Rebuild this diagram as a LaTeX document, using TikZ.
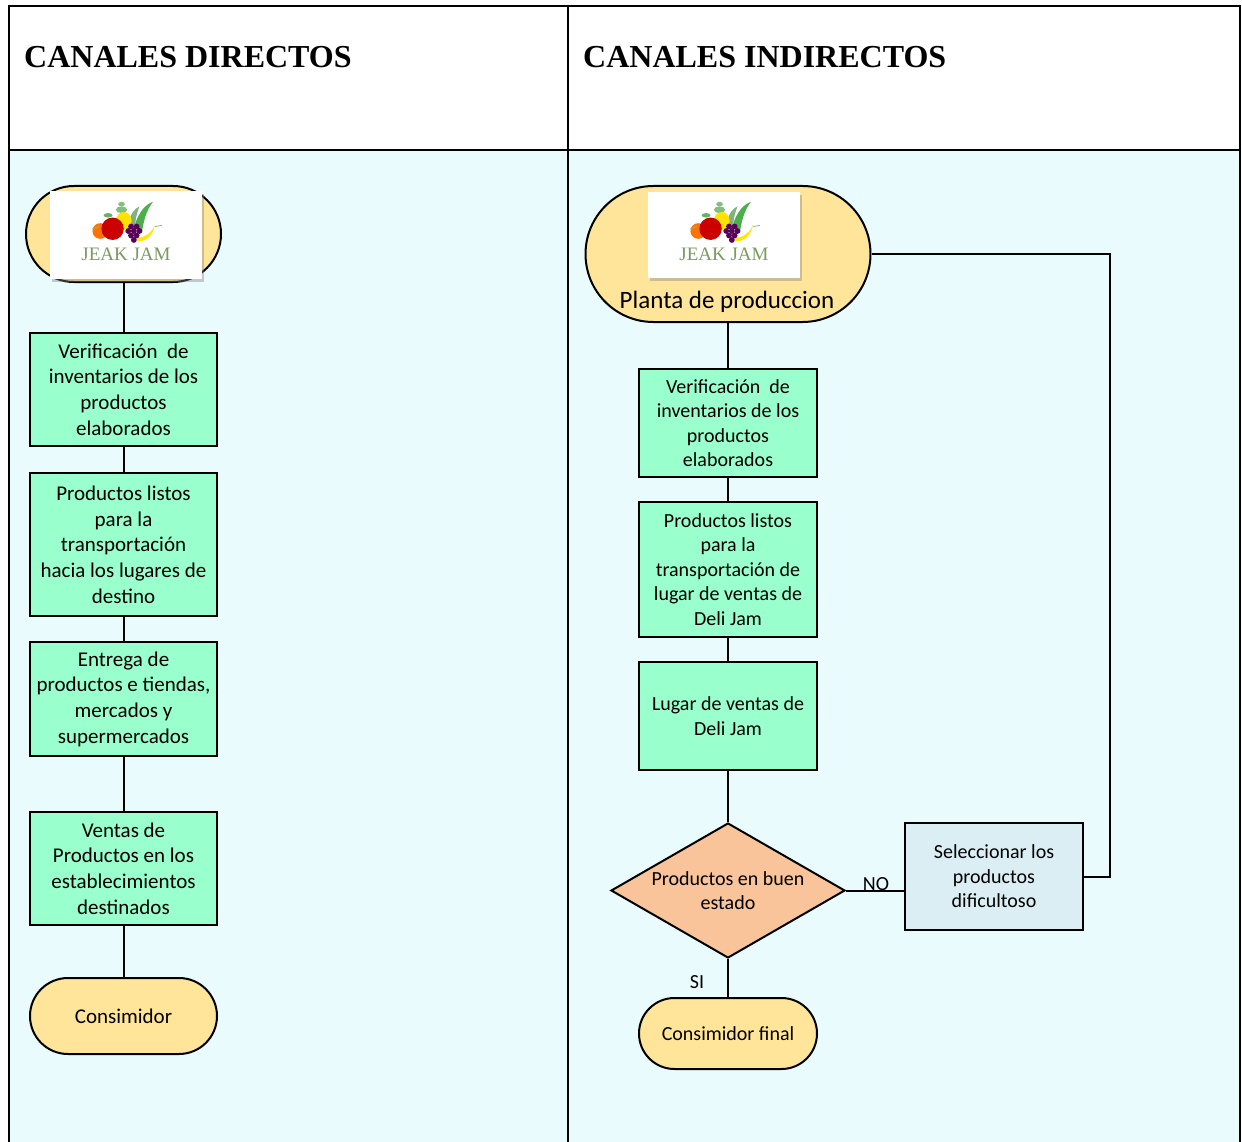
\documentclass[tikz,border=0pt]{standalone}
\usepackage{fontspec}
\setmainfont{Carlito}
\newfontfamily\headfont{Liberation Serif}
\newfontfamily\logofont{Liberation Serif}
\usetikzlibrary{shapes.geometric,shadows,calc}
\definecolor{bodybg}{HTML}{EAFBFE}
\definecolor{procfill}{HTML}{99FFCC}
\definecolor{termfill}{HTML}{FFE599}
\definecolor{decfill}{HTML}{F9C49A}
\definecolor{selfill}{HTML}{DAEEF3}
\definecolor{logogreen}{HTML}{7A9A5E}
\begin{document}
\begin{tikzpicture}[x=1pt,y=-1pt,
  tline/.style={line width=2.5pt, line cap=rect},
  conn/.style={line width=2pt},
  lfont/.style={font=\fontsize{21}{25.7}\selectfont},
  rfont/.style={font=\fontsize{20}{24.4}\selectfont},
  proc/.style={draw=black, line width=2pt, fill=procfill, rectangle, align=center, inner sep=0pt},
  term/.style={draw=black, line width=2pt, fill=termfill, rectangle, align=center, inner sep=0pt},
  dec/.style={draw=black, line width=2pt, fill=decfill, diamond, inner sep=0pt},
  sel/.style={draw=black, line width=2pt, fill=selfill, rectangle, align=center, inner sep=0pt},
  logobox/.style={fill=white, rectangle, inner sep=0pt, minimum width=152pt, minimum height=88pt,
    drop shadow={opacity=0.4, shadow xshift=1.5pt, shadow yshift=-3pt}},
  head/.style={font=\headfont\bfseries\fontsize{32}{36}\selectfont, anchor=base west, inner sep=0pt},
  pics/jeaklogo/.style={code={
    \begin{scope}[yshift=4pt, scale=1.12]
    % leaves
    \fill[green!55!black!70] (8,-6) .. controls (12,-18) and (18,-24) .. (24,-26) .. controls (18,-18) and (16,-10) .. (14,2) -- cycle;
    \fill[green!40!black!50] (2,-6) .. controls (4,-16) and (8,-20) .. (12,-22) .. controls (9,-14) and (8,-8) .. (8,0) -- cycle;
    \fill[green!50!black!50] (-4,-19) ellipse (5pt and 3pt);
    \fill[green!50!black!50] (-4,-24) ellipse (3pt and 2pt);
    % pineapple
    \fill[yellow!85!orange] (-2,-9) ellipse (7pt and 8pt);
    % orange
    \fill[orange!90!red] (-23,0) circle (7pt);
    % apple
    \fill[red!80!black] (-12,-2) circle (10pt);
    \fill[green!50!black!60] (-16,-14) ellipse (4pt and 2pt);
    % banana
    \fill[yellow!90!orange] (10,6) .. controls (18,6) and (24,0) .. (26,-6) .. controls (24,4) and (18,10) .. (10,9) -- cycle;
    % grapes
    \foreach \gx/\gy in {2/0,7/0,12/0,4.5/4,9.5/4,7/8,4.5/-4,9.5/-4}
      \fill[violet!70!black] (\gx,\gy) circle (2.6pt);
    \draw[green!50!black!50, line width=0.8pt] (-30,-2) -- (-24,-4);
    \draw[green!50!black!50, line width=0.8pt] (26,-4) -- (32,-5);
    \end{scope}
    \node[font=\logofont\fontsize{19}{19}\selectfont, text=logogreen, inner sep=0pt] at (0,19) {JEAK JAM};
  }}
]
\useasboundingbox (0,0) rectangle (1242,1142);
% table
\fill[white] (9,6) rectangle (1240,150);
\fill[bodybg] (9,150) rectangle (1240,1142);
\draw[tline] (9,6) -- (1240,6);
\draw[tline] (9,150) -- (1240,150);
\draw[tline] (9,6) -- (9,1142);
\draw[tline] (568,6) -- (568,1142);
\draw[tline] (1240,6) -- (1240,1142);
\node[head] (h1) at (24,68) {CANALES DIRECTOS};
\node[head] (h2) at (583,68) {CANALES INDIRECTOS};

% ---------- left column ----------
\node[term, minimum width=195pt, minimum height=96pt, rounded corners=48pt] (lt) at (123.5,234) {};
\node[logobox] (llogo) at (126,235) {};
\pic at (llogo.center) {jeaklogo};
\node[proc, lfont, minimum width=187pt, minimum height=113pt] (l1) at (123.5,389.5)
  {Verificación~ de\\inventarios de los\\productos\\elaborados};
\node[proc, lfont, minimum width=187pt, minimum height=143pt] (l2) at (123.5,544.5)
  {Productos listos\\para la\\transportación\\hacia los lugares de\\destino};
\node[proc, lfont, minimum width=187pt, minimum height=114pt] (l3) at (123.5,699)
  {Entrega de\\productos e tiendas,\\mercados y\\supermercados};
\node[proc, lfont, minimum width=187pt, minimum height=113pt] (l4) at (123.5,868.5)
  {Ventas de\\Productos en los\\establecimientos\\destinados};
\node[term, lfont, minimum width=187pt, minimum height=76pt, rounded corners=38pt] (lc) at (123.5,1016) {Consimidor};
\draw[conn] (lt.south) -- (l1.north);
\draw[conn] (l1) -- (l2);
\draw[conn] (l2) -- (l3);
\draw[conn] (l3) -- (l4);
\draw[conn] (l4) -- (lc);

% ---------- right column ----------
\node[term, minimum width=285pt, minimum height=136pt, rounded corners=68pt] (rt) at (728,254) {};
\node[logobox, minimum height=86pt] (rlogo) at (724,235) {};
\pic at (rlogo.center) {jeaklogo};
\node[font=\fontsize{25}{27}\selectfont, inner sep=0pt] (rtl) at (727,302) {Planta de produccion};
\node[proc, rfont, minimum width=178pt, minimum height=108pt] (r1) at (728,423)
  {Verificación~ de\\inventarios de los\\productos\\elaborados};
\node[proc, rfont, minimum width=178pt, minimum height=135pt] (r2) at (728,569.5)
  {Productos listos\\para la\\transportación de\\lugar de ventas de\\Deli Jam};
\node[proc, rfont, minimum width=178pt, minimum height=108pt] (r3) at (728,716)
  {Lugar de ventas de\\Deli Jam};
\node[dec, minimum width=234pt, minimum height=135pt, aspect=1.73] (rd) at (728,890.5) {};
\node[rfont, align=center, inner sep=0pt] (rdt) at (rd.center) {Productos en buen\\estado};
\node[sel, rfont, minimum width=178pt, minimum height=107pt] (rs) at (994,876.5)
  {Seleccionar los\\productos\\dificultoso};
\node[term, rfont, minimum width=178pt, minimum height=71pt, rounded corners=35.5pt] (rc) at (728,1033.5) {Consimidor final};
\coordinate (ret) at (1110,254);
\draw[conn] (rt.south) -- (r1.north);
\draw[conn] (r1) -- (r2);
\draw[conn] (r2) -- (r3);
\draw[conn] (r3.south) -- (rd.north);
\draw[conn] (rd.south) -- (rc.north);
\draw[conn] (rd.east) -- (rd.east -| rs.west);
\draw[conn] (rs.east) -| (ret) -- (rt.east);
\node[rfont, inner sep=0pt] (no) at (876,884) {NO};
\node[rfont, inner sep=0pt] (si) at (697,982) {SI};
\end{tikzpicture}
\end{document}
